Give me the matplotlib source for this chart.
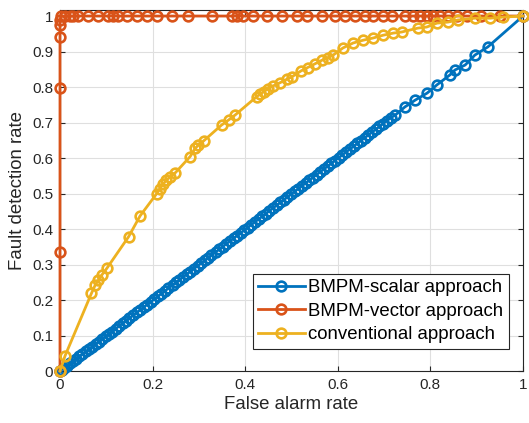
import matplotlib
matplotlib.use("Agg")
import matplotlib.pyplot as plt

plt.rcParams['font.family'] = ['Liberation Sans', 'DejaVu Sans']

# ---- data ----
scalar_fa = [0, 0.004, 0.009, 0.016, 0.022, 0.028, 0.035, 0.041, 0.048, 0.056, 0.062, 0.069,
             0.077, 0.084, 0.091, 0.099, 0.106, 0.112, 0.120, 0.128, 0.135, 0.142, 0.150, 0.158,
             0.166, 0.173, 0.181, 0.188, 0.196, 0.204, 0.212, 0.219, 0.227, 0.234, 0.243, 0.251,
             0.258, 0.266, 0.274, 0.281, 0.289, 0.297, 0.305, 0.313, 0.320, 0.327, 0.336, 0.344,
             0.351, 0.359, 0.367, 0.375, 0.382, 0.390, 0.398, 0.405, 0.413, 0.421, 0.429, 0.437,
             0.444, 0.452, 0.460, 0.468, 0.476, 0.484, 0.491, 0.499, 0.507, 0.515, 0.523, 0.531,
             0.538, 0.546, 0.554, 0.562, 0.570, 0.578, 0.586, 0.594, 0.602, 0.610, 0.618, 0.626,
             0.634, 0.642, 0.650, 0.658, 0.666, 0.674, 0.682, 0.690, 0.698, 0.706, 0.714, 0.724,
             0.745, 0.767, 0.793, 0.814, 0.842, 0.853, 0.875, 0.896, 0.924, 1.0]
scalar_fd = [0, 0.004, 0.009, 0.015, 0.022, 0.028, 0.034, 0.041, 0.047, 0.055, 0.061, 0.068,
             0.076, 0.083, 0.090, 0.098, 0.105, 0.111, 0.119, 0.127, 0.134, 0.141, 0.149, 0.157,
             0.165, 0.172, 0.180, 0.187, 0.195, 0.203, 0.211, 0.218, 0.226, 0.233, 0.242, 0.250,
             0.257, 0.265, 0.273, 0.280, 0.288, 0.296, 0.304, 0.312, 0.319, 0.326, 0.335, 0.343,
             0.350, 0.358, 0.366, 0.374, 0.381, 0.389, 0.397, 0.404, 0.412, 0.420, 0.428, 0.436,
             0.443, 0.451, 0.459, 0.467, 0.475, 0.483, 0.490, 0.498, 0.506, 0.514, 0.522, 0.530,
             0.537, 0.545, 0.553, 0.561, 0.569, 0.577, 0.585, 0.593, 0.601, 0.609, 0.617, 0.625,
             0.633, 0.641, 0.649, 0.657, 0.665, 0.673, 0.681, 0.689, 0.697, 0.705, 0.713, 0.721,
             0.744, 0.763, 0.783, 0.806, 0.834, 0.848, 0.862, 0.890, 0.913, 1.0]

vector_fa = [0, 0, 0, 0, 0, 0, 0.003, 0.011, 0.022, 0.028, 0.039, 0.060, 0.082, 0.104, 0.114,
             0.125, 0.145, 0.166, 0.188, 0.210, 0.242, 0.276, 0.328, 0.371, 0.382, 0.395, 0.417,
             0.447, 0.479, 0.512, 0.533, 0.566, 0.594, 0.616, 0.637, 0.659, 0.676, 0.698, 0.717,
             0.745, 0.762, 0.778, 0.793, 0.806, 0.821, 0.838, 0.857, 0.879, 0.91, 0.95, 1.0]
vector_fd = [0, 0.335, 0.797, 0.942, 0.975, 0.99, 1, 1, 1, 1, 1, 1, 1, 1, 1,
             1, 1, 1, 1, 1, 1, 1, 1, 1, 1, 1, 1,
             1, 1, 1, 1, 1, 1, 1, 1, 1, 1, 1, 1,
             1, 1, 1, 1, 1, 1, 1, 1, 1, 1, 1, 1]

conv_fa = [0, 0.011, 0.068, 0.076, 0.083, 0.090, 0.101, 0.148, 0.173, 0.209, 0.216, 0.223,
           0.230, 0.238, 0.248, 0.281, 0.292, 0.299, 0.310, 0.349, 0.364, 0.378, 0.425, 0.432,
           0.440, 0.450, 0.460, 0.475, 0.490, 0.500, 0.520, 0.535, 0.550, 0.565, 0.578, 0.590,
           0.611, 0.633, 0.655, 0.676, 0.698, 0.720, 0.738, 0.773, 0.792, 0.814, 0.838, 0.860,
           0.896, 0.929, 0.957, 1.0]
conv_fd = [0, 0.043, 0.219, 0.242, 0.256, 0.270, 0.289, 0.378, 0.437, 0.500, 0.514, 0.527,
           0.538, 0.547, 0.557, 0.604, 0.627, 0.637, 0.648, 0.693, 0.707, 0.721, 0.773, 0.780,
           0.787, 0.795, 0.803, 0.812, 0.822, 0.828, 0.845, 0.855, 0.865, 0.875, 0.882, 0.890,
           0.910, 0.924, 0.932, 0.938, 0.946, 0.952, 0.955, 0.966, 0.969, 0.980, 0.983, 0.989,
           0.994, 0.994, 0.997, 1.0]

series_labels = ['BMPM-scalar approach', 'BMPM-vector approach', 'conventional approach']
x_ticks = [0, 0.2, 0.4, 0.6, 0.8, 1]
x_tick_labels = ['0', '0.2', '0.4', '0.6', '0.8', '1']
y_ticks = [0, 0.1, 0.2, 0.3, 0.4, 0.5, 0.6, 0.7, 0.8, 0.9, 1]
y_tick_labels = ['0', '0.1', '0.2', '0.3', '0.4', '0.5', '0.6', '0.7', '0.8', '0.9', '1']

colors = ['#0072BD', '#D95319', '#EDB120']

fig = plt.figure(figsize=(5.29, 4.23), dpi=100)
ax = fig.add_axes([60 / 529, 52 / 423, 463 / 529, 361 / 423])

style = dict(marker='o', markersize=7, markerfacecolor='none', markeredgewidth=1.9,
             linewidth=2.0, clip_on=False)
ax.plot(scalar_fa, scalar_fd, color=colors[0], label=series_labels[0], zorder=3, **style)
ax.plot(vector_fa, vector_fd, color=colors[1], label=series_labels[1], zorder=4, **style)
ax.plot(conv_fa, conv_fd, color=colors[2], label=series_labels[2], zorder=5, **style)

ax.set_xlim(0, 1)
ax.set_ylim(0, 1.017)
ax.set_xticks(x_ticks)
ax.set_xticklabels(x_tick_labels)
ax.set_yticks(y_ticks)
ax.set_yticklabels(y_tick_labels)
ax.grid(True, color='#DFDFDF', linewidth=0.8)
ax.set_axisbelow(True)
ax.tick_params(direction='in', top=True, right=True, length=3.5, width=0.8,
               colors='#262626', labelsize=11, pad=5)
for s in ax.spines.values():
    s.set_color('#262626')
    s.set_linewidth(0.8)

ax.set_xlabel('False alarm rate', fontsize=13.4, color='#262626', labelpad=3)
ax.set_ylabel('Fault detection rate', fontsize=13.4, color='#262626', labelpad=4)

leg = ax.legend(loc='lower right', bbox_to_anchor=(0.970, 0.061), fontsize=13.4,
                fancybox=False, framealpha=1, edgecolor='#262626', borderpad=0.3,
                labelspacing=0.35, handlelength=2.5, handletextpad=0.2, borderaxespad=0)
leg.get_frame().set_linewidth(0.8)
leg.set_zorder(10)
for t in leg.get_texts():
    t.set_color('black')

fig.savefig('out.png', dpi=100)
